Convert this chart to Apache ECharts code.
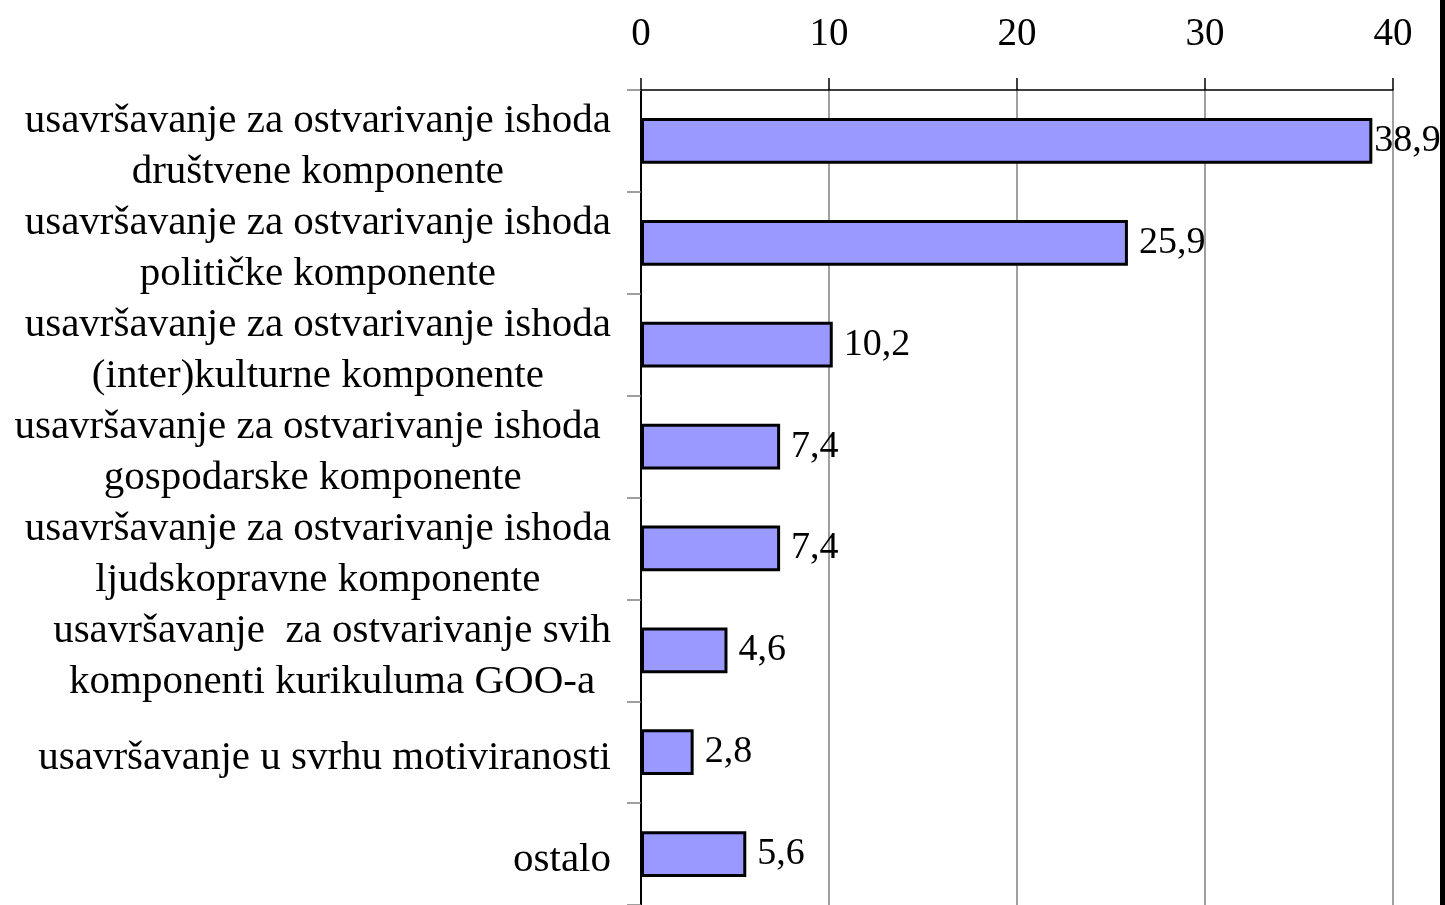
<!DOCTYPE html>
<html>
<head>
<meta charset="utf-8">
<script src="https://cdn.jsdelivr.net/npm/echarts@6/dist/echarts.min.js"></script>
<style>
  html, body { margin: 0; padding: 0; background: #fff; }
  #chart { width: 1445px; height: 905px; }
</style>
</head>
<body>
<div id="chart"></div>
<script>
var categories = [
    'usavršavanje za ostvarivanje ishoda\ndruštvene komponente',
    'usavršavanje za ostvarivanje ishoda\npolitičke komponente',
    'usavršavanje za ostvarivanje ishoda\n(inter)kulturne komponente',
    'usavršavanje za ostvarivanje ishoda \ngospodarske komponente',
    'usavršavanje za ostvarivanje ishoda\nljudskopravne komponente',
    'usavršavanje  za ostvarivanje svih\nkomponenti kurikuluma GOO-a',
    'usavršavanje u svrhu motiviranosti',
    'ostalo'
];
var values = [38.9, 25.9, 10.2, 7.4, 7.4, 4.6, 2.8, 5.6];
var tickMin = 0, tickMax = 40, tickStep = 10;

var font = "'Liberation Serif', 'Times New Roman', serif";

function initBars(id) {
    var myChart = echarts.init(document.getElementById(id));
    var max = Math.max.apply(null, values);
    var option = {
        backgroundColor: '#fff',
        animation: false,
        grid: {
            left: 641,
            top: 90,
            width: 752,
            height: 820,
            containLabel: false
        },
        xAxis: {
            type: 'value',
            position: 'top',
            min: tickMin,
            max: tickMax,
            interval: tickStep,
            axisLine: { show: true, lineStyle: { color: '#000', width: 1.5 } },
            axisTick: { show: true, length: 12, lineStyle: { color: '#000', width: 1.5 } },
            axisLabel: {
                margin: 36,
                color: '#000',
                fontFamily: font,
                fontSize: 39
            },
            splitLine: { show: true, lineStyle: { color: '#808080', width: 1.5 } }
        },
        yAxis: {
            type: 'category',
            inverse: true,
            data: categories,
            axisLine: { show: true, lineStyle: { color: '#000', width: 2 } },
            axisTick: { show: true, length: 14, lineStyle: { color: '#808080', width: 1.5 } },
            axisLabel: {
                interval: 0,
                margin: 30,
                padding: [12, 0, 0, 0],
                color: '#000',
                formatter: function (v) {
                    // each line centred inside the right-aligned block
                    return v.split('\n').map(function (s) { return '{c|' + s + '}'; }).join('\n');
                },
                rich: {
                    c: {
                        align: 'center',
                        fontFamily: font,
                        fontSize: 41,
                        lineHeight: 51,
                        color: '#000'
                    }
                }
            }
        },
        graphic: [{
            type: 'rect',
            right: 0,
            top: 0,
            shape: { width: 5, height: 905 },
            style: { fill: '#000' }
        }],
        series: [{
            type: 'bar',
            barWidth: '45%',
            data: values.map(function (v) {
                // the longest bar's label sits tight against the frame
                return v === max ? { value: v, label: { distance: 2 } } : v;
            }),
            itemStyle: {
                color: '#9999ff',
                borderColor: '#000',
                borderWidth: 3
            },
            label: {
                show: true,
                position: 'right',
                distance: 11,
                color: '#000',
                fontFamily: font,
                fontSize: 38,
                formatter: function (p) {
                    return p.value.toFixed(1).replace('.', ',');
                }
            }
        }]
    };
    myChart.setOption(option);
    this.resize = function () {
        myChart.resize();
    };
}
new initBars('chart');
</script>
</body>
</html>
